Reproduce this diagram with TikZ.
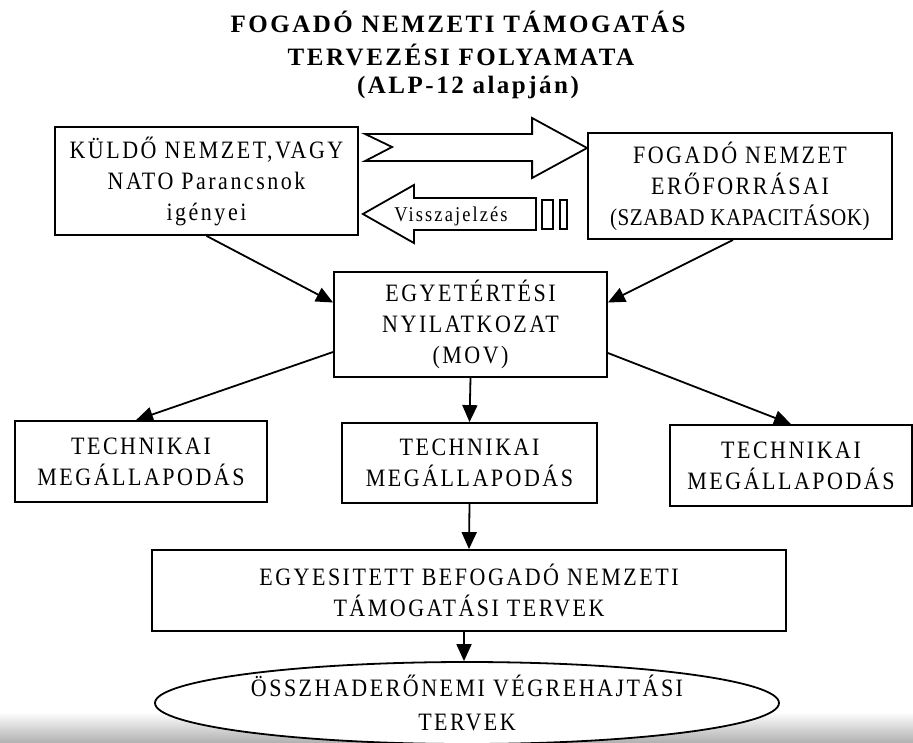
\documentclass[tikz,border=0pt]{standalone}
\usepackage{fontspec}
\setmainfont{Liberation Serif}
\newfontfamily\boxfont[LetterSpace=10,FakeStretch=0.88]{Liberation Serif}
\newfontfamily\tightfont[LetterSpace=2,FakeStretch=0.88]{Liberation Serif}
\newfontfamily\titlefont[LetterSpace=10]{Liberation Serif}
\usetikzlibrary{arrows.meta,calc,shapes.geometric}

\begin{document}
\begin{tikzpicture}[x=1pt,y=-1pt,
  box/.style={draw, line width=1.8pt, inner sep=0pt, align=center,
    font=\boxfont\fontsize{25}{31}\selectfont},
  titletext/.style={inner sep=0pt, font=\titlefont\bfseries\fontsize{25}{30}\selectfont},
  conn/.style={line width=1.8pt, -{Triangle[length=17pt,width=15pt]}},
  hollow/.style={draw, line width=1.8pt, line join=miter, fill=white}]

\useasboundingbox (0,0) rectangle (913,742);
\fill[white] (0,0) rectangle (913,742);
% darker band along the lower edge of the sheet
\shade[top color=white, bottom color=black!30] (0,712) rectangle (913,742);

% title
\node[titletext] (title1) at (458,22) {FOGADÓ NEMZETI TÁMOGATÁS};
\node[titletext] (title2) at (461,55) {TERVEZÉSI FOLYAMATA};
\node[titletext] (title3) at (468,87) {(ALP-12 alapján)};

% top row
\node[box, minimum width=303pt, minimum height=108pt] (req) at (206.5,181)
  {KÜLDŐ NEMZET,VAGY\\NATO Parancsnok\\igényei};
\node[box, minimum width=304pt, minimum height=106pt] (res) at (740,186)
  {FOGADÓ NEMZET\\ERŐFORRÁSAI\\{\tightfont\fontsize{24}{31}\selectfont(SZABAD KAPACITÁSOK)}};

% memorandum
\node[box, minimum width=273pt, minimum height=105pt] (mov) at (470.5,324.5)
  {EGYETÉRTÉSI\\NYILATKOZAT\\(MOV)};

% technical agreements
\node[box, minimum width=252pt, minimum height=81pt] (ltm) at (141,461.5)
  {TECHNIKAI\\MEGÁLLAPODÁS};
\node[box, minimum width=255pt, minimum height=80pt] (mtm) at (469.5,463)
  {TECHNIKAI\\MEGÁLLAPODÁS};
\node[box, minimum width=242pt, minimum height=81pt] (rtm) at (791,465.5)
  {TECHNIKAI\\MEGÁLLAPODÁS};

% joint plans
\node[box, minimum width=634pt, minimum height=81pt] (plan) at (469,590.5)
  {EGYESITETT BEFOGADÓ NEMZETI\\TÁMOGATÁSI TERVEK};
\node[box, ellipse, fill=white, minimum width=624pt, minimum height=82pt] (exec) at (467,703)
  {ÖSSZHADERŐNEMI VÉGREHAJTÁSI\\[3pt]TERVEK};

% request arrow (notched, pointing right)
\coordinate (rtip) at ($(res.west)+(0,-38)$);
\draw[hollow] (rtip) -- ++(-55,-30) -- ++(0,16) -- ++(-167,0) -- ++(27,13)
  -- ++(-27,14) -- ++(167,0) -- ++(0,17) -- cycle;

% feedback arrow (pointing left)
\coordinate (ltip) at ($(req.east)+(4,33)$);
\draw[hollow] (ltip) -- ++(51,-29) -- ++(0,13) -- ++(122,0) -- ++(0,32)
  -- ++(-122,0) -- ++(0,13) -- cycle;
\node[inner sep=0pt, font=\boxfont\fontsize{21}{22}\selectfont] (fb) at (451,216) {Visszajelzés};
\draw[line width=1.6pt] (542,200) rectangle (553,229);
\draw[line width=1.6pt] (560,200) rectangle (567,229);

% connectors
\draw[conn] (req.south) -- ($(mov.west)+(0,-22)$);
\draw[conn] ($(res.south)+(-7,0)$) -- ($(mov.east)+(0,-22)$);
\draw[conn] ($(mov.west)+(0,27.5)$) -- ($(ltm.north)+(-5,0)$);
\draw[conn] (mov.south) -- (mtm.north);
\draw[conn] ($(mov.east)+(0,28.5)$) -- (rtm.north);
\draw[conn] (mtm.south) -- (plan.north);
\draw[conn] ($(plan.south)+(-5,0)$) -- ($(exec.north)+(-3,0)$);
\end{tikzpicture}
\end{document}
